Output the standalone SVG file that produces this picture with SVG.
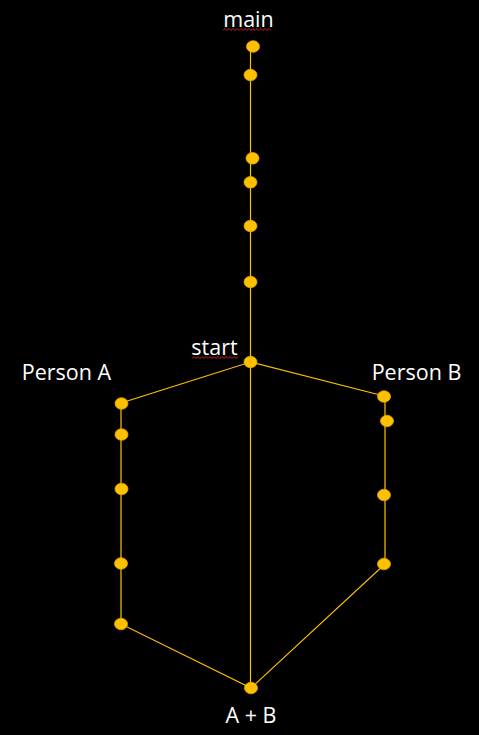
<svg xmlns="http://www.w3.org/2000/svg" width="479" height="735" viewBox="0 0 479 735">
<style>
.bg{fill:#000}
.lbl{font-family:"Open Sans","Liberation Sans",sans-serif;font-size:21.5px;fill:#fff}
.dot{fill:#FFC000;stroke:#E0A800;stroke-width:0.8}
.ln{stroke:#FFC000;stroke-width:1.2;fill:none}
.sq{stroke:#D02020;stroke-width:1;fill:none}
</style>
<rect class="bg" width="479" height="735"/>
<g id="connectors">
<line class="ln" x1="250.5" y1="46" x2="250.5" y2="688"/>
<polyline class="ln" points="121,403 250.5,362 384,396"/>
<polyline class="ln" points="121,403 121,624 251,688 385,564 385,396"/>
</g>
<g id="main">
<text class="lbl" x="248.5" y="27" text-anchor="middle">main</text>
<path class="sq" d="M223,30.5 l2,-2 l2,2 l2,-2 l2,2 l2,-2 l2,2 l2,-2 l2,2 l2,-2 l2,2 l2,-2 l2,2 l2,-2 l2,2 l2,-2 l2,2 l2,-2 l2,2 l2,-2 l2,2 l2,-2 l2,2 l2,-2 l2,2"/>
<ellipse class="dot" cx="253" cy="46.5" rx="6.5" ry="5.8"/>
</g>
<g id="spine">
<ellipse class="dot" cx="250.5" cy="75" rx="6.5" ry="5.8"/>
<ellipse class="dot" cx="252.5" cy="158.3" rx="6.5" ry="5.8"/>
<ellipse class="dot" cx="250.5" cy="182.3" rx="6.5" ry="5.8"/>
<ellipse class="dot" cx="250.5" cy="226" rx="6.5" ry="5.8"/>
<ellipse class="dot" cx="250.5" cy="282" rx="6.5" ry="5.8"/>
</g>
<g id="start">
<text class="lbl" x="214.5" y="355" text-anchor="middle">start</text>
<path class="sq" d="M192,358.5 l2,-2 l2,2 l2,-2 l2,2 l2,-2 l2,2 l2,-2 l2,2 l2,-2 l2,2 l2,-2 l2,2 l2,-2 l2,2 l2,-2 l2,2 l2,-2 l2,2 l2,-2 l2,2 l2,-2 l2,2 l2,-2"/>
<ellipse class="dot" cx="250.5" cy="362" rx="6.5" ry="5.8"/>
</g>
<g id="personA">
<text class="lbl" x="66.5" y="380" text-anchor="middle">Person A</text>
<ellipse class="dot" cx="121.5" cy="403.5" rx="6.5" ry="5.8"/>
<ellipse class="dot" cx="121.5" cy="434.5" rx="6.5" ry="5.8"/>
<ellipse class="dot" cx="121.5" cy="489" rx="6.5" ry="5.8"/>
<ellipse class="dot" cx="121" cy="563.5" rx="6.5" ry="5.8"/>
<ellipse class="dot" cx="121" cy="624" rx="6.5" ry="5.8"/>
</g>
<g id="personB">
<text class="lbl" x="416.5" y="380" text-anchor="middle">Person B</text>
<ellipse class="dot" cx="384" cy="396.5" rx="6.5" ry="5.8"/>
<ellipse class="dot" cx="387" cy="421" rx="6.5" ry="5.8"/>
<ellipse class="dot" cx="384" cy="495" rx="6.5" ry="5.8"/>
<ellipse class="dot" cx="384" cy="564" rx="6.5" ry="5.8"/>
</g>
<g id="AB">
<ellipse class="dot" cx="251" cy="688" rx="6.5" ry="5.8"/>
<text class="lbl" x="251" y="723" text-anchor="middle">A + B</text>
</g>
</svg>
